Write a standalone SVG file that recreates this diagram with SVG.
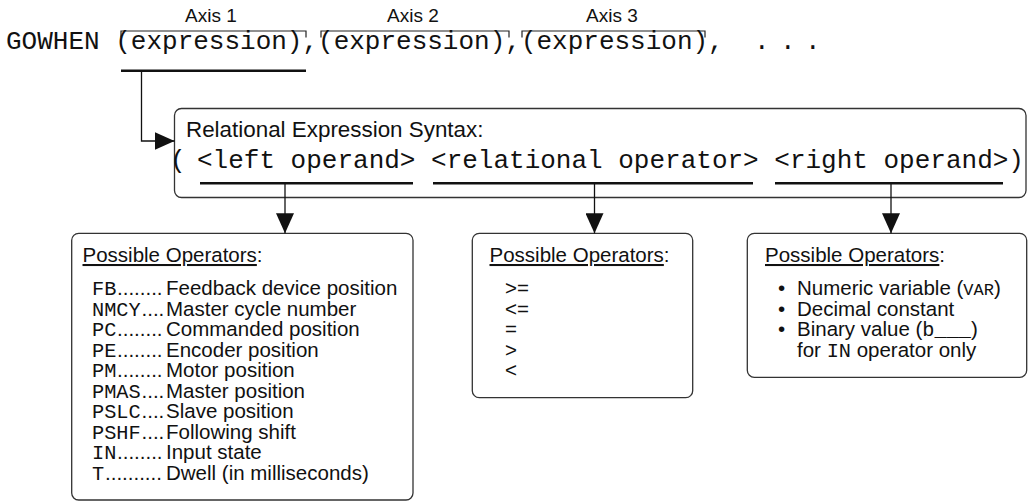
<svg xmlns="http://www.w3.org/2000/svg" width="1032" height="504" viewBox="0 0 1032 504">
<style>
.mono{font-family:"Liberation Mono","Courier New",monospace;fill:#111}
.sans{font-family:"Liberation Sans",Arial,sans-serif;fill:#111}
.box{fill:#fff;stroke:#333;stroke-width:1.3}
.ln{fill:none;stroke:#111;stroke-width:1.3}
.ul{fill:none;stroke:#111;stroke-width:2.6}
.brk{fill:none;stroke:#222;stroke-width:1.2}
.code{font-size:20.3px}
.item{font-size:20.5px}
</style>
<defs>
<marker id="ah" viewBox="0 0 20 18" refX="20" refY="9" markerWidth="20" markerHeight="18" markerUnits="userSpaceOnUse" orient="auto">
<path d="M0,0 L20,9 L0,18 Z" fill="#111"/>
</marker>
</defs>
<rect width="1032" height="504" fill="#fff"/>

<g id="header">
<text class="sans" font-size="19" x="185" y="22">Axis 1</text>
<text class="sans" font-size="19" x="387" y="22">Axis 2</text>
<text class="sans" font-size="19" x="586" y="22">Axis 3</text>
<path class="brk" d="M121,37.5 V31 H306 V37.5"/>
<path class="brk" d="M321,37.5 V31 H509 V37.5"/>
<path class="brk" d="M522,37.5 V31 H705 V37.5"/>
<text class="mono" font-size="26" x="6" y="49">GOWHEN (expression),(expression),(expression),</text>
<text class="mono" font-size="26" x="754 780 805" y="49">...</text>
<line class="ul" x1="121" y1="70.7" x2="306" y2="70.7"/>
</g>

<g id="syntax">
<rect class="box" x="174.5" y="108.5" width="851.5" height="89" rx="7"/>
<text class="sans" font-size="22.4" x="186" y="137">Relational Expression Syntax:</text>
<text class="mono" font-size="26" x="170" y="168">(</text>
<text class="mono" font-size="26" x="197" y="168">&lt;left operand&gt; &lt;relational operator&gt; &lt;right operand&gt;)</text>
<line class="ul" x1="200" y1="183.3" x2="413" y2="183.3"/>
<line class="ul" x1="433" y1="183.3" x2="753" y2="183.3"/>
<line class="ul" x1="775" y1="183.3" x2="1003" y2="183.3"/>
</g>

<g id="left-operators">
<rect class="box" x="71.7" y="233.3" width="341.3" height="266.7" rx="7"/>
<text class="sans" font-size="20.5" x="82.5" y="262"><tspan text-decoration="underline">Possible Operators</tspan>:</text>
<g class="mono code">
<text x="92" y="295">FB</text>
<text x="92" y="315.5">NMCY</text>
<text x="92" y="336">PC</text>
<text x="92" y="356.5">PE</text>
<text x="92" y="377">PM</text>
<text x="92" y="397.5">PMAS</text>
<text x="92" y="418">PSLC</text>
<text x="92" y="438.5">PSHF</text>
<text x="92" y="459">IN</text>
<text x="92" y="479.5">T</text>
</g>
<g class="sans item">
<text x="117" y="295">........</text>
<text x="141.5" y="315.5">....</text>
<text x="117" y="336">........</text>
<text x="117" y="356.5">........</text>
<text x="117" y="377">........</text>
<text x="141.5" y="397.5">....</text>
<text x="141.5" y="418">....</text>
<text x="141.5" y="438.5">....</text>
<text x="117" y="459">........</text>
<text x="105" y="479.5">..........</text>
</g>
<g class="sans item">
<text x="166" y="295">Feedback device position</text>
<text x="166" y="315.5">Master cycle number</text>
<text x="166" y="336">Commanded position</text>
<text x="166" y="356.5">Encoder position</text>
<text x="166" y="377">Motor position</text>
<text x="166" y="397.5">Master position</text>
<text x="166" y="418">Slave position</text>
<text x="166" y="438.5">Following shift</text>
<text x="166" y="459">Input state</text>
<text x="166" y="479.5">Dwell (in milliseconds)</text>
</g>
</g>

<g id="relational-operators">
<rect class="box" x="472.3" y="233.3" width="220.4" height="164.4" rx="7"/>
<text class="sans" font-size="20.5" x="489.5" y="262"><tspan text-decoration="underline">Possible Operators</tspan>:</text>
<g class="sans item">
<text x="505" y="295">&gt;=</text>
<text x="505" y="315.5">&lt;=</text>
<text x="505" y="336">=</text>
<text x="505" y="356.5">&gt;</text>
<text x="505" y="377">&lt;</text>
</g>
</g>

<g id="right-operands">
<rect class="box" x="747.3" y="233.3" width="279.4" height="144" rx="7"/>
<text class="sans" font-size="20.5" x="765" y="262"><tspan text-decoration="underline">Possible Operators</tspan>:</text>
<g class="sans item">
<text x="778" y="295">•</text>
<text x="778" y="315.5">•</text>
<text x="778" y="336">•</text>
<text x="797" y="295">Numeric variable (<tspan class="mono" font-size="17">VAR</tspan>)</text>
<text x="797" y="315.5">Decimal constant</text>
<text x="797" y="336">Binary value (<tspan class="mono code">b___</tspan>)</text>
<text x="797" y="356.5">for <tspan class="mono code">IN</tspan> operator only</text>
</g>
</g>

<g id="connectors">
<polyline class="ln" points="141.5,71 141.5,141 174.5,141" marker-end="url(#ah)"/>
<line class="ln" x1="285" y1="184" x2="285" y2="233.3" marker-end="url(#ah)"/>
<line class="ln" x1="594.5" y1="184" x2="594.5" y2="233.3" marker-end="url(#ah)"/>
<line class="ln" x1="891" y1="184" x2="891" y2="233.3" marker-end="url(#ah)"/>
</g>
</svg>
